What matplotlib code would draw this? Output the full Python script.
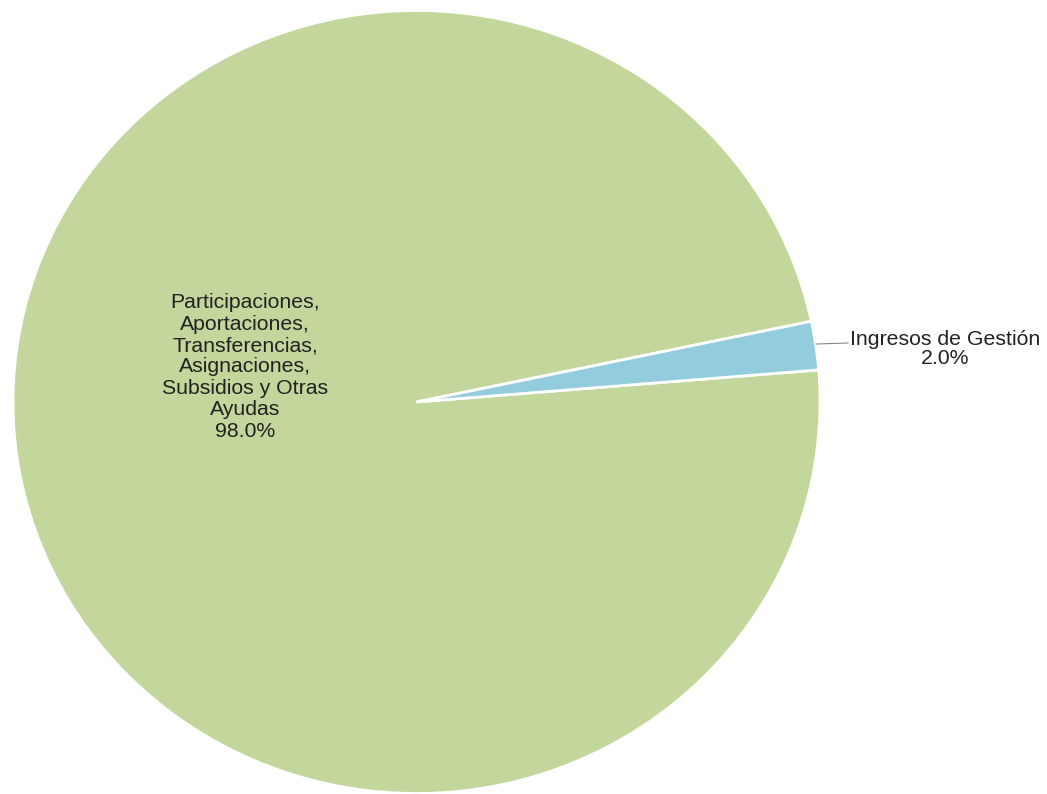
import matplotlib
matplotlib.use("Agg")
import matplotlib.pyplot as plt

categorias = ['Participaciones,\nAportaciones,\nTransferencias,\nAsignaciones,\nSubsidios y Otras\nAyudas',
              'Ingresos de Gestión']
porcentajes = [98.0, 2.0]
colores = ['#C3D69B', '#93CDDD']

plt.rcParams['font.family'] = ['Liberation Sans', 'DejaVu Sans']

W, H = 1047, 794
fig = plt.figure(figsize=(W / 100, H / 100), dpi=100)
ax = fig.add_axes([0, 0, 1, 1])

# pie slightly stretched like the original picture
cx, cy, rx, ry = 416.5, 402, 403.5, 391.5
ax.pie(porcentajes, colors=colores, startangle=11.9, counterclock=True,
       radius=1, frame=True, wedgeprops=dict(edgecolor='white', linewidth=2))
ax.set_aspect('auto')
ax.set_xlim(-cx / rx, (W - cx) / rx)
ax.set_ylim(-(H - cy) / ry, cy / ry)
ax.axis('off')

def px(x, y):
    return x / W, 1 - y / H

fig.text(*px(245, 367), categorias[0] + '\n' + f'{porcentajes[0]:.1f}%',
         ha='center', va='center', fontsize=15.3, color='#222222', linespacing=1.16)
fig.text(*px(945, 349), categorias[1] + '\n' + f'{porcentajes[1]:.1f}%',
         ha='center', va='center', fontsize=15.3, color='#222222', linespacing=1.05)
fig.add_artist(plt.Line2D([816 / W, 848 / W], [1 - 344 / H, 1 - 343 / H],
                          color='#888888', linewidth=0.8))

fig.savefig('out.png', dpi=100)
